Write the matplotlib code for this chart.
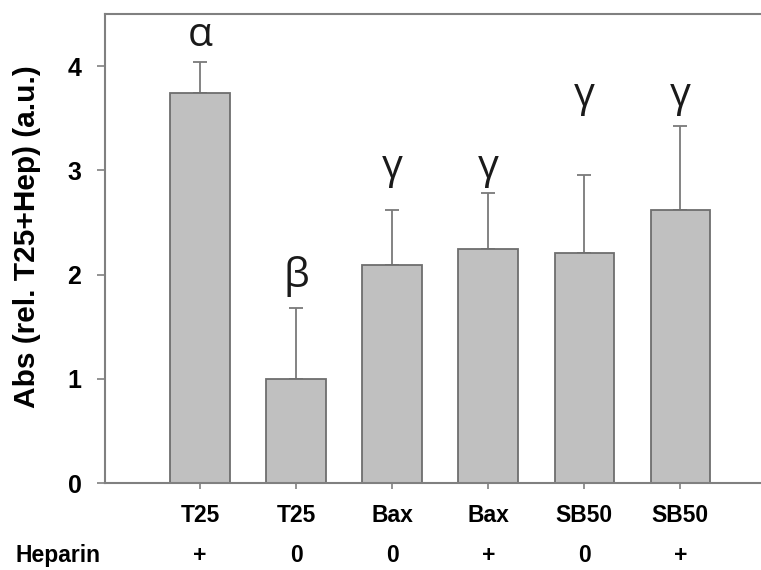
import numpy as np
from matplotlib import pyplot as plt
from matplotlib import transforms

treatments = ["T25", "T25", "Bax", "Bax", "SB50", "SB50"]
heparin = ["+", "0", "0", "+", "0", "+"]
means = [3.74, 1.00, 2.09, 2.25, 2.21, 2.62]
err_up = [0.30, 0.68, 0.53, 0.53, 0.75, 0.81]
letters = ["α", "β", "γ", "γ", "γ", "γ"]
letter_y = [4.19, 1.88, 2.93, 2.93, 3.62, 3.62]  # baseline of each letter

plt.rcParams['font.family'] = ['Liberation Sans', 'DejaVu Sans']

fig = plt.figure(figsize=(7.61, 5.70), dpi=100)
ax = fig.add_axes([0.138, 0.1526, 0.862, 0.8228])

x = np.arange(len(means))
ax.bar(x, means, width=0.62, color="#c0c0c0", edgecolor="#6e6e6e", linewidth=1.3, zorder=2)
ax.errorbar(x, means, yerr=[np.zeros(len(means)), err_up], fmt="none",
            ecolor="#7a7a7a", elinewidth=1.3, capsize=5, capthick=1.3, zorder=1)

# significance letters
for xi, ly, lab in zip(x, letter_y, letters):
    ax.text(xi, ly, lab, ha="center", va="baseline", fontsize=29.5,
            family=["Open Sans", "DejaVu Sans"], color="#1a1a1a")

ax.set_ylim(0, 4.5)
ax.set_xlim(-0.99, 5.84)
ax.set_yticks([0, 1, 2, 3, 4])
ax.set_xticks(x)
ax.set_xticklabels(treatments, fontsize=16.5, fontweight="bold")
ax.tick_params(axis="y", labelsize=18, length=6, width=1.2, color="#808080", pad=11)
ax.tick_params(axis="x", length=4, width=1.2, color="#808080", pad=11)
for t in ax.get_yticklabels():
    t.set_fontweight("bold")

ax.set_ylabel("Abs (rel. T25+Hep) (a.u.)", fontsize=21.5, fontweight="bold")
ax.yaxis.set_label_coords(-0.097, 0.525)

for side in ["left", "bottom", "top"]:
    ax.spines[side].set_color("#808080")
    ax.spines[side].set_linewidth(1.5)
ax.spines["right"].set_visible(False)

# heparin row under the treatment labels
trans = transforms.blended_transform_factory(ax.transData, fig.transFigure)
for xi, h in zip(x, heparin):
    ax.text(xi, 0.026, h, transform=trans, ha="center", va="center",
            fontsize=16.5, fontweight="bold")
fig.text(0.076, 0.026, "Heparin", ha="center", va="center", fontsize=16.5, fontweight="bold")

fig.savefig("out.png", dpi=100)
